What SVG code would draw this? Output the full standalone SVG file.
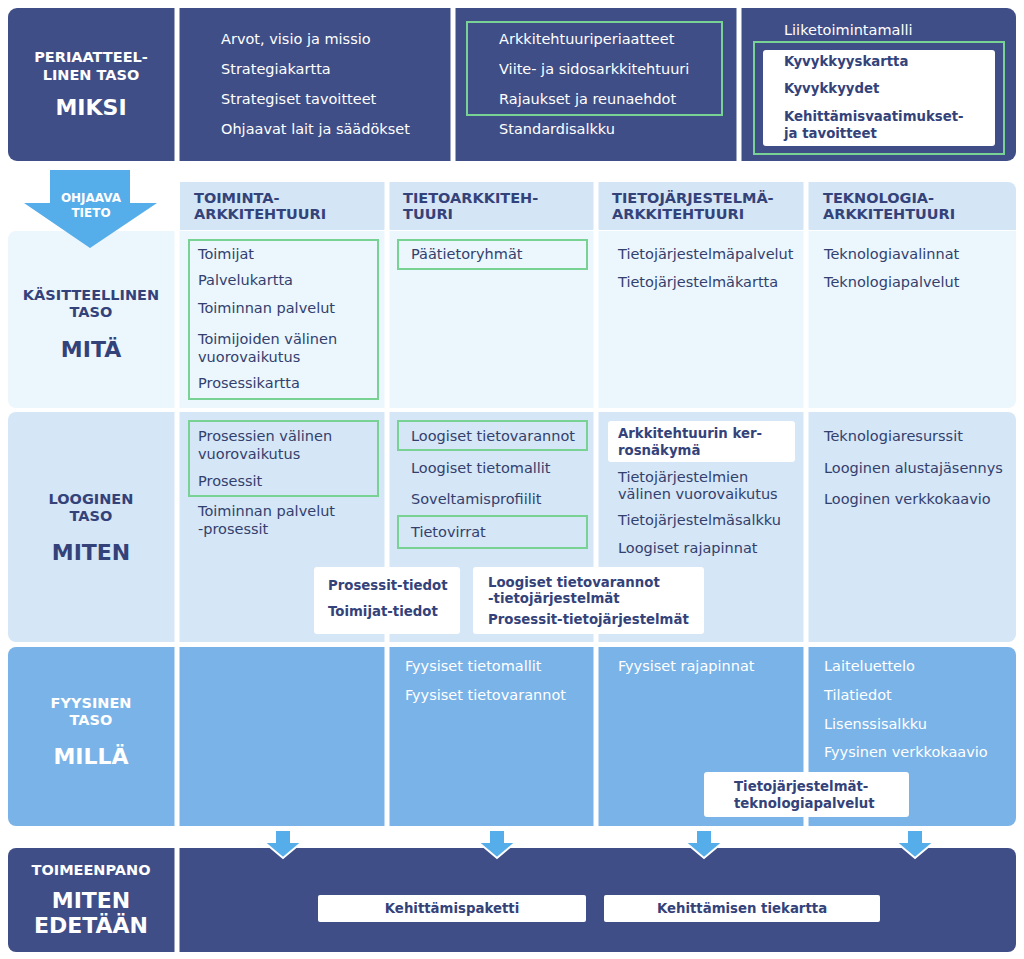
<svg xmlns="http://www.w3.org/2000/svg" width="1024" height="959" viewBox="0 0 1024 959">
<defs>
<style>
.t{font-family:"DejaVu Sans",Verdana,sans-serif;font-size:14.5px;fill:#33406d}
.tw{font-family:"DejaVu Sans",Verdana,sans-serif;font-size:14.5px;fill:#ffffff}
.h{font-family:"DejaVu Sans",Verdana,sans-serif;font-size:14.5px;font-weight:bold;fill:#34427a}
.hw{font-family:"DejaVu Sans",Verdana,sans-serif;font-size:14.5px;font-weight:bold;fill:#ffffff}
.bb{font-family:"DejaVu Sans",Verdana,sans-serif;font-size:13.3px;font-weight:bold;fill:#34427a}
.big{font-family:"DejaVu Sans",Verdana,sans-serif;font-size:22px;font-weight:bold;fill:#34427a}
.bigw{font-family:"DejaVu Sans",Verdana,sans-serif;font-size:22px;font-weight:bold;fill:#ffffff}
.aw{font-family:"DejaVu Sans",Verdana,sans-serif;font-size:12px;font-weight:bold;fill:#ffffff}
.g{fill:none;stroke:#78d294;stroke-width:2}
.wb{fill:#ffffff}
.dark{fill:#3f4e86}
.hdr{fill:#d4e5f5}
.r1{fill:#ebf6fd}
.r2{fill:#d5e6f6}
.r3{fill:#7ab3e7}
.div{stroke:#ffffff;stroke-width:5}
.arr{fill:#55ade9;stroke:#ffffff;stroke-width:2;stroke-linejoin:miter}
</style>
</defs>
<rect width="1024" height="959" fill="#ffffff"/>

<!-- Top row -->
<g id="row-periaatteellinen">
<rect class="dark" x="8" y="8" width="1008" height="153" rx="9"/>
<line class="div" x1="177" y1="6" x2="177" y2="163"/>
<line class="div" x1="453" y1="6" x2="453" y2="163"/>
<line class="div" x1="739" y1="6" x2="739" y2="163"/>
<text class="hw" x="91" y="62" text-anchor="middle">PERIAATTEEL-</text>
<text class="hw" x="91" y="80" text-anchor="middle">LINEN TASO</text>
<text class="bigw" x="91" y="115" text-anchor="middle">MIKSI</text>
</g>
<g id="top-strategia">
<text class="tw" x="221" y="44">Arvot, visio ja missio</text>
<text class="tw" x="221" y="74">Strategiakartta</text>
<text class="tw" x="221" y="104">Strategiset tavoitteet</text>
<text class="tw" x="221" y="134">Ohjaavat lait ja säädökset</text>
</g>
<g id="top-arkkitehtuuri">
<rect class="g" x="467" y="22" width="255" height="93"/>
<text class="tw" x="499" y="44">Arkkitehtuuriperiaatteet</text>
<text class="tw" x="499" y="74">Viite- ja sidosarkkitehtuuri</text>
<text class="tw" x="499" y="104">Rajaukset ja reunaehdot</text>
<text class="tw" x="499" y="134">Standardisalkku</text>
</g>
<g id="top-liiketoiminta">
<text class="tw" x="784" y="35">Liiketoimintamalli</text>
<rect class="g" x="754" y="42" width="250" height="112"/>
<rect class="wb" x="763" y="50" width="232" height="96" rx="3"/>
<text class="bb" x="784" y="66">Kyvykkyyskartta</text>
<text class="bb" x="784" y="93">Kyvykkyydet</text>
<text class="bb" x="784" y="121">Kehittämisvaatimukset-</text>
<text class="bb" x="784" y="138">ja tavoitteet</text>
</g>

<!-- Header row -->
<g id="headers">
<path class="hdr" d="M180,182 H1008 A8,8 0 0 1 1016,190 V230 H180 Z"/>
<line class="div" x1="387" y1="180" x2="387" y2="232"/>
<line class="div" x1="596" y1="180" x2="596" y2="232"/>
<line class="div" x1="806" y1="180" x2="806" y2="232"/>
<text class="h" x="194" y="203">TOIMINTA-</text>
<text class="h" x="194" y="219">ARKKITEHTUURI</text>
<text class="h" x="403" y="203">TIETOARKKITEH-</text>
<text class="h" x="403" y="219">TUURI</text>
<text class="h" x="612" y="203">TIETOJÄRJESTELMÄ-</text>
<text class="h" x="612" y="219">ARKKITEHTUURI</text>
<text class="h" x="823" y="203">TEKNOLOGIA-</text>
<text class="h" x="823" y="219">ARKKITEHTUURI</text>
</g>

<!-- Row backgrounds -->
<g id="row-kasitteellinen">
<rect class="r1" x="8" y="231" width="1008" height="177" rx="8"/>
<rect class="r1" x="180" y="231" width="836" height="10"/>
<line class="div" x1="177" y1="229" x2="177" y2="410"/>
<line class="div" x1="387" y1="229" x2="387" y2="410"/>
<line class="div" x1="596" y1="229" x2="596" y2="410"/>
<line class="div" x1="806" y1="229" x2="806" y2="410"/>
<text class="h" x="91" y="300" text-anchor="middle">KÄSITTEELLINEN</text>
<text class="h" x="91" y="317" text-anchor="middle">TASO</text>
<text class="big" x="91" y="357" text-anchor="middle">MITÄ</text>
</g>
<g id="row-looginen">
<rect class="r2" x="8" y="412" width="1008" height="230" rx="8"/>
<line class="div" x1="177" y1="410" x2="177" y2="644"/>
<line class="div" x1="387" y1="410" x2="387" y2="644"/>
<line class="div" x1="596" y1="410" x2="596" y2="644"/>
<line class="div" x1="806" y1="410" x2="806" y2="644"/>
<text class="h" x="91" y="504" text-anchor="middle">LOOGINEN</text>
<text class="h" x="91" y="521" text-anchor="middle">TASO</text>
<text class="big" x="91" y="560" text-anchor="middle">MITEN</text>
</g>
<g id="row-fyysinen">
<rect class="r3" x="8" y="647" width="1008" height="179" rx="8"/>
<line class="div" x1="177" y1="645" x2="177" y2="828"/>
<line class="div" x1="387" y1="645" x2="387" y2="828"/>
<line class="div" x1="596" y1="645" x2="596" y2="828"/>
<line class="div" x1="806" y1="645" x2="806" y2="828"/>
<text class="hw" x="91" y="708" text-anchor="middle">FYYSINEN</text>
<text class="hw" x="91" y="725" text-anchor="middle">TASO</text>
<text class="bigw" x="91" y="764" text-anchor="middle">MILLÄ</text>
</g>
<g id="row-toimeenpano">
<rect class="dark" x="8" y="848" width="1008" height="104" rx="8"/>
<line class="div" x1="177" y1="846" x2="177" y2="954"/>
<text class="hw" x="91" y="875" text-anchor="middle">TOIMEENPANO</text>
<text class="bigw" x="91" y="908" text-anchor="middle">MITEN</text>
<text class="bigw" x="91" y="933" text-anchor="middle">EDETÄÄN</text>
</g>

<!-- Ohjaava tieto arrow -->
<g id="ohjaava-tieto">
<path fill="#55ade9" d="M50,170 H130 V203 H157 L90,248 L24,203 H50 Z"/>
<text class="aw" x="91" y="202" text-anchor="middle">OHJAAVA</text>
<text class="aw" x="91" y="217" text-anchor="middle">TIETO</text>
</g>

<!-- Käsitteellinen cells -->
<g id="k-toiminta">
<rect class="g" x="189" y="240" width="189" height="159"/>
<text class="t" x="198" y="259">Toimijat</text>
<text class="t" x="198" y="285">Palvelukartta</text>
<text class="t" x="198" y="313">Toiminnan palvelut</text>
<text class="t" x="198" y="344">Toimijoiden välinen</text>
<text class="t" x="198" y="362">vuorovaikutus</text>
<text class="t" x="198" y="388">Prosessikartta</text>
</g>
<g id="k-tieto">
<rect class="g" x="398" y="240" width="189" height="29"/>
<text class="t" x="411" y="259">Päätietoryhmät</text>
</g>
<g id="k-tietojarjestelma">
<text class="t" x="618" y="259">Tietojärjestelmäpalvelut</text>
<text class="t" x="618" y="287">Tietojärjestelmäkartta</text>
</g>
<g id="k-teknologia">
<text class="t" x="824" y="259">Teknologiavalinnat</text>
<text class="t" x="824" y="287">Teknologiapalvelut</text>
</g>

<!-- Looginen cells -->
<g id="l-toiminta">
<rect class="g" x="189" y="421" width="189" height="75"/>
<text class="t" x="198" y="441">Prosessien välinen</text>
<text class="t" x="198" y="459">vuorovaikutus</text>
<text class="t" x="198" y="486">Prosessit</text>
<text class="t" x="198" y="516">Toiminnan palvelut</text>
<text class="t" x="198" y="534">-prosessit</text>
</g>
<g id="l-tieto">
<rect class="g" x="398" y="421" width="189" height="29"/>
<text class="t" x="411" y="441">Loogiset tietovarannot</text>
<text class="t" x="411" y="473">Loogiset tietomallit</text>
<text class="t" x="411" y="504">Soveltamisprofiilit</text>
<rect class="g" x="398" y="516" width="189" height="32"/>
<text class="t" x="411" y="537">Tietovirrat</text>
</g>
<g id="l-tietojarjestelma">
<rect class="wb" x="608" y="421" width="187" height="41" rx="3"/>
<text class="bb" x="618" y="438">Arkkitehtuurin ker-</text>
<text class="bb" x="618" y="455">rosnäkymä</text>
<text class="t" x="618" y="482">Tietojärjestelmien</text>
<text class="t" x="618" y="499">välinen vuorovaikutus</text>
<text class="t" x="618" y="525">Tietojärjestelmäsalkku</text>
<text class="t" x="618" y="553">Loogiset rajapinnat</text>
</g>
<g id="l-teknologia">
<text class="t" x="824" y="441">Teknologiaresurssit</text>
<text class="t" x="824" y="473">Looginen alustajäsennys</text>
<text class="t" x="824" y="504">Looginen verkkokaavio</text>
</g>
<g id="l-prosessit-tiedot">
<rect class="wb" x="314" y="567" width="146" height="67" rx="3"/>
<text class="bb" x="328" y="590">Prosessit-tiedot</text>
<text class="bb" x="328" y="616">Toimijat-tiedot</text>
</g>
<g id="l-tietovarannot-jarjestelmat">
<rect class="wb" x="473" y="567" width="231" height="67" rx="3"/>
<text class="bb" x="488" y="587">Loogiset tietovarannot</text>
<text class="bb" x="488" y="603">-tietojärjestelmät</text>
<text class="bb" x="488" y="624">Prosessit-tietojärjestelmät</text>
</g>

<!-- Fyysinen cells -->
<g id="f-tieto">
<text class="tw" x="405" y="671">Fyysiset tietomallit</text>
<text class="tw" x="405" y="700">Fyysiset tietovarannot</text>
</g>
<g id="f-tietojarjestelma">
<text class="tw" x="618" y="671">Fyysiset rajapinnat</text>
</g>
<g id="f-teknologia">
<text class="tw" x="824" y="671">Laiteluettelo</text>
<text class="tw" x="824" y="700">Tilatiedot</text>
<text class="tw" x="824" y="729">Lisenssisalkku</text>
<text class="tw" x="824" y="757">Fyysinen verkkokaavio</text>
</g>
<g id="f-tj-teknologiapalvelut">
<rect class="wb" x="704" y="772" width="205" height="45" rx="3"/>
<text class="bb" x="734" y="791">Tietojärjestelmät-</text>
<text class="bb" x="734" y="808">teknologiapalvelut</text>
</g>

<!-- Connectors -->
<g id="connectors">
<path class="arr" d="M275,830 H291 V842 H302 L283,858 L264,842 H275 Z"/>
<path class="arr" d="M489,830 H505 V842 H516 L497,858 L478,842 H489 Z"/>
<path class="arr" d="M696,830 H712 V842 H723 L704,858 L685,842 H696 Z"/>
<path class="arr" d="M907,830 H923 V842 H934 L915,858 L896,842 H907 Z"/>
</g>

<!-- Toimeenpano cells -->
<g id="t-kehittamispaketti">
<rect class="wb" x="318" y="895" width="268" height="27" rx="2"/>
<text class="bb" x="452" y="913" text-anchor="middle">Kehittämispaketti</text>
</g>
<g id="t-tiekartta">
<rect class="wb" x="604" y="895" width="276" height="27" rx="2"/>
<text class="bb" x="742" y="913" text-anchor="middle">Kehittämisen tiekartta</text>
</g>
</svg>
